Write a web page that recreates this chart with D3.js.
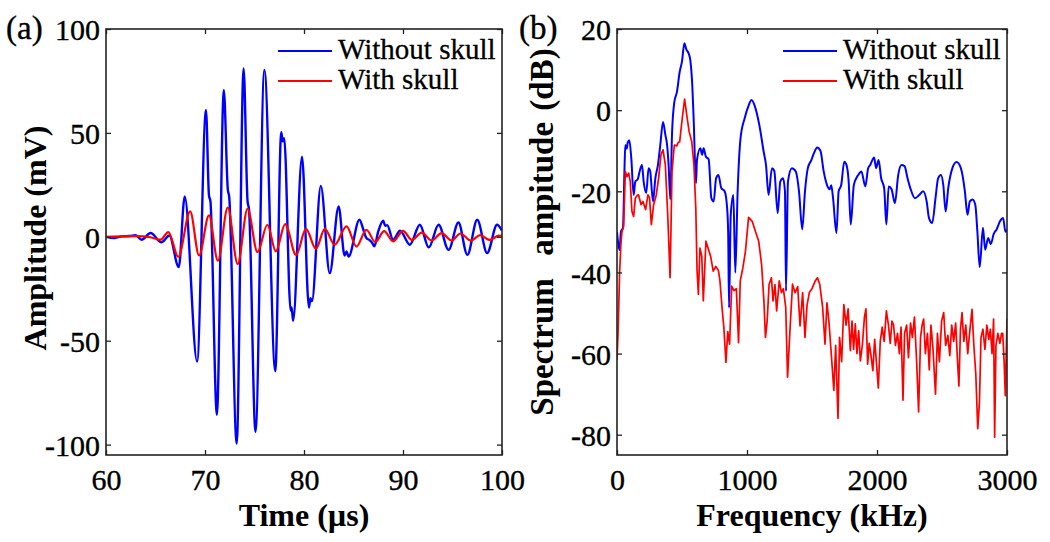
<!DOCTYPE html>
<html>
<head>
<meta charset="utf-8">
<script src="https://cdn.jsdelivr.net/npm/d3@7"></script>
<style>
  body { margin: 0; background: #fff; }
  svg text { font-family: "Liberation Serif", "Times New Roman", Tinos, "DejaVu Serif", serif !important; fill: #000; }
</style>
</head>
<body>
<svg id="chart" width="1050" height="542"></svg>
<script>
// (a) time signal, [time in us, amplitude in mV]
const waveWithout = [
  [60.0, 0.0], [60.8, -0.6], [61.6, 0.2], [62.4, 0.4], [63.0, 0.8], [63.6, -1.4], [64.5, 1.8],
  [65.6, -2.6], [66.4, 0.6], [67.35, -14.6], [67.95, 19.4], [69.2, -60], [70.1, 61], [70.4, 20],
  [70.55, 17], [71.2, -85.6], [71.9, 70.7], [72.3, 23], [72.45, 19], [73.2, -99.5], [73.9, 81],
  [74.3, 17], [74.45, 13], [75.1, -93.8], [76.0, 80.3], [77.1, -64.7], [77.7, 50.3], [77.85, 46],
  [78.0, 47.4], [78.65, -35.5], [78.75, -34], [78.9, -40.4], [79.8, 38.6], [80.5, -34],
  [80.65, -29.5], [80.8, -31], [81.7, 24.5], [82.6, -17.5], [83.5, 14.6], [84.1, -9], [84.3, -7],
  [84.5, -9.5], [85.6, 8.2], [86.0, 3.4], [86.3, -0.6], [86.6, -1.5], [86.9, -3], [87.1, -4.6],
  [87.5, 2.6], [88.0, 7.7], [88.2, 5.3], [88.4, 5.6], [89.0, -1.4], [89.7, 2.9], [90.7, -3.8],
  [91.7, 5.8], [92.6, -5.1], [93.6, 5.8], [94.6, -6.3], [95.6, 6.9], [96.5, -8.7], [97.5, 8.2],
  [98.5, -7.8], [99.5, 5.8], [100, 3]
];
const waveWith = [
  [60, 0], [61.5, 0.2], [63, 0.3], [64.5, -0.2], [65.5, -1.4], [66.3, 2.3], [67.3, -9.6],
  [68.5, 12.2], [69.4, -9], [70.4, 10.3], [71.3, -11.5], [72.3, 14.1], [73.3, -13.1], [74.3, 13.5],
  [75.3, -7.4], [76.3, 5.8], [77.15, -7], [78.1, 6.1], [79.2, -8.7], [80.2, 3.8], [81.2, -5.8],
  [82.1, 3.8], [83.1, -3.8], [84.3, 5], [85.3, -4.7], [86.3, 3.4], [87.2, -2.5], [88.1, 2.7],
  [89.0, -2.2], [90.0, 2.9], [90.9, -1.5], [91.9, 2], [92.9, -1.8], [93.9, 1.8], [94.9, -1.8],
  [95.8, 1.6], [96.85, -1.8], [97.8, 0.8], [98.75, -1.5], [99.7, 0.6], [100, 0.5]
];

// (b) spectrum, [frequency in kHz, dB]
const specWithout = [
  [0, -30], [10, -33], [20, -34.5], [30, -30], [46, -29], [58, -14], [64, -8.6], [75, -9.5],
  [82, -8], [95, -7.4], [110, -11.9], [128, -20.9], [141, -17.6], [160, -17], [174, -15.1],
  [192, -13.5], [205, -17.6], [225, -20.4], [243, -14.3], [255, -15], [277, -22.5], [295, -16.8],
  [315, -13.5], [333, -8.6], [354, -2.9], [372, -6.1], [385, -8.5], [397, -13.5], [410, -22],
  [423, -6.1], [441, 2], [461, 4.5], [482, 9.4], [500, 12], [518, 16.5], [533, 15], [551, 14],
  [564, 12.3], [577, 7.4], [589, -1.6], [608, -18], [615, -12.3], [641, -9.4], [655, -11],
  [666, -9.4], [684, -11.5], [705, -12.1], [726, -21.7], [744, -22.5], [762, -16.8], [780, -16],
  [802, -19.2], [828, -20], [846, -23.7], [855, -29.9], [862, -48.7], [875, -25.8], [895, -20.9],
  [910, -40.1], [928, -20], [950, -7], [982, -2], [1013, 1.2], [1035, 2.5], [1060, 1],
  [1095, -3.7], [1128, -10.2], [1146, -13.5], [1166, -20.9], [1192, -14.3], [1210, -15],
  [1236, -25.4], [1256, -17.6], [1277, -16.8], [1292, -20], [1300, -44.6], [1315, -17.6],
  [1345, -14.3], [1375, -15.1], [1400, -20], [1425, -29.4], [1446, -20], [1468, -14.3],
  [1495, -12.3], [1515, -10.6], [1540, -9.2], [1565, -10], [1590, -15.1], [1615, -18.4],
  [1635, -19.5], [1648, -18.5], [1662, -21.7], [1688, -30.3], [1705, -20], [1725, -18.4],
  [1748, -12.7], [1765, -13.5], [1782, -17.6], [1798, -28.2], [1822, -18.4], [1855, -16],
  [1880, -15.1], [1910, -18.8], [1932, -14.3], [1948, -13.5], [1978, -11.7], [1993, -14.3],
  [2012, -12.3], [2032, -16.8], [2055, -19.2], [2072, -28.2], [2090, -18.8], [2112, -19.5],
  [2138, -22.9], [2163, -16], [2188, -13.5], [2212, -13.8], [2235, -16.8], [2260, -19.6],
  [2292, -21.7], [2322, -21], [2355, -20], [2382, -22.5], [2400, -26.6], [2425, -27.8],
  [2450, -21.7], [2470, -16.8], [2492, -16], [2510, -18.5], [2528, -25], [2548, -19.2],
  [2580, -14.3], [2612, -12.8], [2645, -14.3], [2676, -20], [2696, -25.8], [2714, -22.5],
  [2736, -22], [2756, -23.3], [2772, -29.9], [2790, -38.7], [2815, -29], [2832, -34.4],
  [2855, -31.5], [2875, -33], [2898, -30.5], [2920, -29.4], [2946, -27.4], [2970, -26.6],
  [2988, -30], [3000, -29.5]
];
const specWith = [
  [0, -61.5], [8, -55], [20, -40], [30, -33], [38, -30], [51, -28.6], [64, -15.1], [77, -16.4],
  [90, -15.5], [102, -17.6], [115, -25], [128, -26.2], [141, -21.7], [155, -21], [166, -20.9],
  [185, -23.3], [200, -22.5], [220, -24.5], [238, -20.9], [250, -21.5], [264, -28.2], [282, -23.3],
  [302, -20.9], [320, -16.8], [338, -11], [354, -9.8], [372, -13.5], [389, -25], [400, -34],
  [408, -41.3], [416, -28], [423, -15.1], [441, -8.6], [460, -8.8], [470, -8], [482, -7.8],
  [502, -2], [520, 2.7], [540, -2], [555, -5.3], [575, -7.8], [592, -13.5], [606, -24.1],
  [616, -39.7], [626, -45.4], [638, -34], [652, -36], [664, -47], [684, -32.3], [700, -34],
  [720, -36], [740, -39.7], [760, -38.5], [780, -39.5], [792, -42.1], [808, -48.7], [822, -53.6],
  [838, -62.2], [852, -54.6], [866, -57.7], [882, -43.4], [900, -44.5], [918, -44], [935, -57.3],
  [948, -42.1], [968, -38.9], [988, -34.8], [1012, -26.4], [1040, -27.4], [1065, -29.9],
  [1090, -32.3], [1112, -38], [1130, -47], [1142, -56], [1155, -52], [1170, -42.9], [1188, -41.3],
  [1200, -47], [1215, -43], [1228, -49.5], [1248, -42.1], [1265, -45], [1280, -44], [1298, -48.7],
  [1312, -65.8], [1330, -54.6], [1350, -42.9], [1370, -45], [1390, -43.5], [1408, -53.2],
  [1428, -45], [1446, -56], [1462, -48], [1480, -44.9], [1500, -44], [1525, -42.1], [1542, -41.3],
  [1560, -43], [1582, -48.7], [1600, -57.7], [1615, -47.5], [1630, -52], [1650, -60.9],
  [1668, -69.1], [1682, -58], [1700, -76], [1712, -56], [1728, -62], [1745, -47.9], [1762, -53],
  [1778, -49], [1795, -59.3], [1808, -52], [1820, -59], [1833, -52.7], [1846, -60], [1859, -54.4],
  [1872, -61.8], [1888, -57.7], [1903, -51.1], [1915, -49], [1928, -62.6], [1940, -57.5],
  [1952, -60], [1968, -64.2], [1982, -56.5], [1995, -62], [2010, -68.5], [2025, -57],
  [2040, -53.5], [2055, -57], [2072, -49.5], [2088, -53], [2102, -57.5], [2115, -52],
  [2127, -52.9], [2142, -58], [2158, -55], [2172, -60], [2185, -53.5], [2200, -71.5], [2212, -55],
  [2228, -53], [2242, -61], [2258, -52.5], [2272, -56], [2288, -51], [2305, -62], [2320, -74.4],
  [2335, -56], [2347, -53], [2359, -51.5], [2372, -60], [2388, -55], [2402, -64], [2415, -53],
  [2430, -58.5], [2450, -70], [2465, -55], [2480, -62], [2497, -52], [2513, -49.9], [2528, -58],
  [2545, -55.5], [2560, -60.5], [2575, -53], [2590, -57], [2605, -52.5], [2618, -61], [2630, -68],
  [2642, -54], [2654, -49.9], [2668, -57], [2683, -53], [2698, -60], [2712, -55], [2731, -49.1],
  [2745, -58], [2760, -65], [2775, -78.5], [2788, -72], [2800, -56], [2815, -54], [2830, -59],
  [2845, -53], [2860, -56.5], [2872, -54], [2885, -60], [2897, -51.5], [2905, -80.6], [2915, -58],
  [2930, -55], [2945, -57.5], [2958, -55], [2967, -55], [2978, -62], [2987, -70.4], [3000, -51.5]
];

const legendNames = ["Without skull", "With skull"];
const colours = ["#0000ff", "#ff0000"];
const timeTicks = [60, 70, 80, 90, 100];
const ampTicks = [-100, -50, 0, 50, 100];
const freqTicks = [0, 1000, 2000, 3000];
const dbTicks = [-80, -60, -40, -20, 0, 20];

const serif = "'Liberation Serif', 'Times New Roman', Tinos, 'DejaVu Serif', serif";
const svg = d3.select("#chart").attr("font-family", serif);
const fmt = d => String(d);

function drawPanel(p) {
  const x = d3.scaleLinear().domain(p.xDomain).range([p.left, p.right]);
  const y = d3.scaleLinear().domain(p.yDomain).range([p.bottom, p.top]);
  const g = svg.append("g");

  g.append("clipPath").attr("id", p.id)
    .append("rect")
      .attr("x", p.left).attr("y", p.top)
      .attr("width", p.right - p.left).attr("height", p.bottom - p.top);

  // curves, the red one on top
  p.series.forEach(function(s, i) {
    const line = d3.line()
        .x(d => x(d[0]))
        .y(d => y(d[1]))
        .curve(p.curves[i]);
    g.append("path")
        .datum(s)
        .attr("clip-path", "url(#" + p.id + ")")
        .attr("fill", "none")
        .attr("stroke", colours[i])
        .attr("stroke-width", p.widths[i])
        .attr("stroke-linejoin", "round")
        .attr("d", line);
  });

  // inward ticks on all four sides
  const tick = 5;
  const bottom = g.append("g")
      .attr("transform", "translate(0," + p.bottom + ")")
      .call(d3.axisBottom(x).tickValues(p.xTicks).tickFormat(fmt).tickSizeInner(-tick).tickSizeOuter(0));
  bottom.selectAll("text").attr("y", 35).attr("dy", null);
  g.append("g")
      .attr("transform", "translate(0," + p.top + ")")
      .call(d3.axisTop(x).tickValues(p.xTicks).tickFormat("").tickSizeInner(-tick).tickSizeOuter(0));
  const left = g.append("g")
      .attr("transform", "translate(" + p.left + ",0)")
      .call(d3.axisLeft(y).tickValues(p.yTicks).tickFormat(fmt).tickSizeInner(-tick).tickSizeOuter(0).tickPadding(6));
  left.selectAll("text").attr("dy", "0.36em");
  g.append("g")
      .attr("transform", "translate(" + p.right + ",0)")
      .call(d3.axisRight(y).tickValues(p.yTicks).tickFormat("").tickSizeInner(-tick).tickSizeOuter(0));

  g.selectAll(".domain").remove();
  g.selectAll("g").attr("font-family", serif).attr("font-size", 30);
  g.selectAll(".tick line").attr("stroke", "#222").attr("stroke-width", 1.3);
  g.selectAll(".tick text").attr("fill", "#000").attr("stroke", "#000").attr("stroke-width", 0.35);

  g.append("rect")
      .attr("x", p.left).attr("y", p.top)
      .attr("width", p.right - p.left).attr("height", p.bottom - p.top)
      .attr("fill", "none").attr("stroke", "#222").attr("stroke-width", 1.6);

  // axis titles
  g.append("text")
      .attr("x", (p.left + p.right) / 2).attr("y", 526)
      .attr("text-anchor", "middle")
      .attr("font-size", 32).attr("font-weight", "bold")
      .text(p.xLabel);
  g.append("text")
      .attr("transform", "translate(" + p.yLabelX + "," + p.yLabelY + ") rotate(-90)")
      .attr("text-anchor", "middle")
      .attr("font-size", p.yLabelSize).attr("font-weight", "bold")
      .attr("xml:space", "preserve")
      .style("white-space", "pre")
      .style("word-spacing", p.yWordSpacing + "px")
      .text(p.yLabel);

  // panel letter
  g.append("text")
      .attr("x", p.tagX).attr("y", 39)
      .attr("font-size", 33)
      .attr("stroke", "#000").attr("stroke-width", 0.35)
      .text(p.tag);

  // legend, no box
  legendNames.forEach(function(name, i) {
    const ly = 51 + i * 30;
    g.append("line")
        .attr("x1", p.legendX).attr("x2", p.legendX + 54)
        .attr("y1", ly).attr("y2", ly)
        .attr("stroke", colours[i]).attr("stroke-width", 2);
    g.append("text")
        .attr("x", p.legendX + 60).attr("y", ly + 8)
        .attr("font-size", 29)
        .attr("stroke", "#000").attr("stroke-width", 0.3)
        .text(name);
  });
}

drawPanel({
  id: "clipA", tag: "(a)", tagX: 6,
  left: 106, right: 502, top: 29, bottom: 455,
  xDomain: [60, 100], yDomain: [-105, 100],
  xTicks: timeTicks, yTicks: ampTicks,
  series: [waveWithout, waveWith], widths: [2.4, 2.2],
  curves: [d3.curveMonotoneX, d3.curveMonotoneX],
  xLabel: "Time (\u00b5s)", yLabel: "Amplitude (mV)",
  yLabelX: 46, yLabelY: 238, yLabelSize: 32, yWordSpacing: 0,
  legendX: 278
});

drawPanel({
  id: "clipB", tag: "(b)", tagX: 519,
  left: 617, right: 1007, top: 29, bottom: 455,
  xDomain: [0, 3000], yDomain: [-85, 20],
  xTicks: freqTicks, yTicks: dbTicks,
  series: [specWithout, specWith], widths: [2.0, 1.7],
  curves: [d3.curveMonotoneX, d3.curveLinear],
  xLabel: "Frequency (kHz)", yLabel: "Spectrum  ampitude (dB)",
  yLabelX: 553, yLabelY: 232, yLabelSize: 33, yWordSpacing: 3,
  legendX: 783
});
</script>
</body>
</html>
